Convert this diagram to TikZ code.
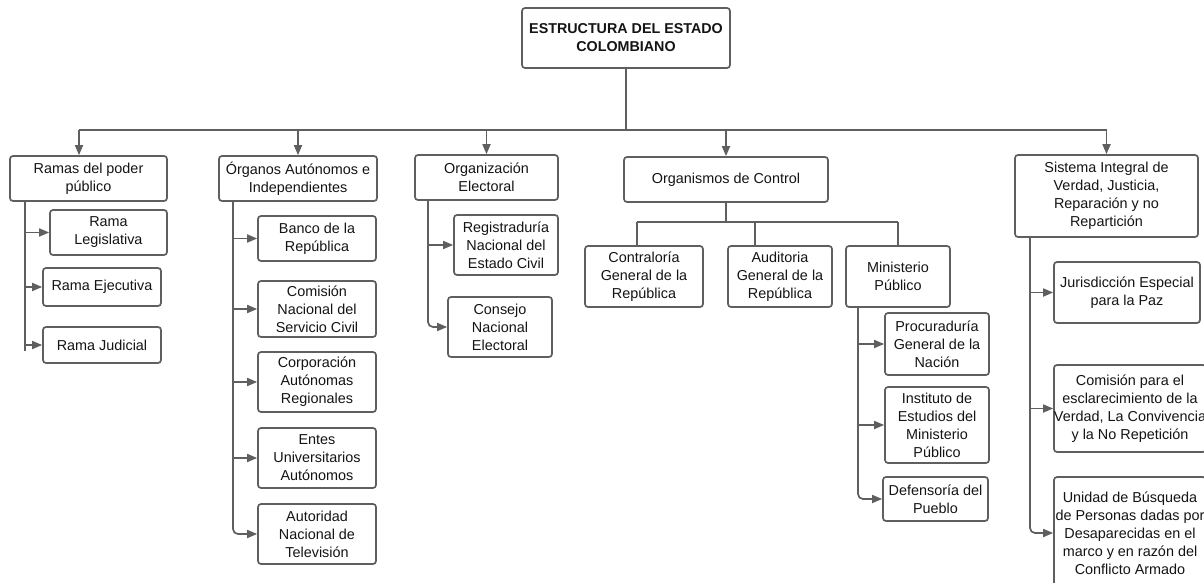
\documentclass[tikz,border=0pt]{standalone}
\usepackage{fontspec}
\setmainfont{Liberation Sans}
\usetikzlibrary{arrows.meta}
\definecolor{ln}{RGB}{95,95,95}
\definecolor{tx}{RGB}{20,20,20}
\begin{document}
\begin{tikzpicture}[x=1pt,y=-1pt,
  box/.style={draw=ln, line width=1.7pt, rounded corners=3pt, fill=white, align=center,
    inner sep=0pt, text=tx, font=\fontsize{14.4}{18}\selectfont},
  conn/.style={draw=ln, line width=1.7pt},
  arr/.style={conn, -{Triangle[length=10pt,width=8pt]}}]
\useasboundingbox (0,0) rectangle (1204,583);
\clip (0,0) rectangle (1204,583);
\fill[white] (0,0) rectangle (1204,583);

% root
\node[box, minimum width=208, minimum height=60, font=\bfseries\fontsize{14.3}{18}\selectfont] (top) at (626,38) {ESTRUCTURA DEL ESTADO\\COLOMBIANO};

% first level
\node[box, minimum width=157, minimum height=45] (ramas) at (88.5,178.5) {Ramas del poder\\público};
\node[box, minimum width=158, minimum height=45] (organos) at (298,178.5) {Órganos Autónomos e\\Independientes};
\node[box, minimum width=143, minimum height=45] (orgel) at (486.5,177.5) {Organización\\Electoral};
\node[box, minimum width=204, minimum height=45] (orgctl) at (726,179.5) {Organismos de Control};
\node[box, minimum width=183, minimum height=82] (sistema) at (1106.5,196) {Sistema Integral de\\Verdad, Justicia,\\Reparación y no\\Repartición};

% Ramas children
\node[box, minimum width=117, minimum height=45] (leg) at (108.5,232.5) {Rama\\Legislativa};
\node[box, minimum width=118, minimum height=38] (eje) at (102,287) {Rama Ejecutiva};
\node[box, minimum width=118, minimum height=36] (jud) at (102,345) {Rama Judicial};

% Organos children
\node[box, minimum width=118, minimum height=45] (banco) at (317,238.5) {Banco de la\\República};
\node[box, minimum width=118, minimum height=56] (cnsc) at (317,309) {Comisión\\Nacional del\\Servicio Civil};
\node[box, minimum width=118, minimum height=60] (car) at (317,382) {Corporación\\Autónomas\\Regionales};
\node[box, minimum width=118, minimum height=60] (entes) at (317,458) {Entes\\Universitarios\\Autónomos};
\node[box, minimum width=118, minimum height=60] (antv) at (317,534) {Autoridad\\Nacional de\\Televisión};

% Organizacion children
\node[box, minimum width=104, minimum height=60] (reg) at (506,245) {Registraduría\\Nacional del\\Estado Civil};
\node[box, minimum width=104, minimum height=60] (cne) at (500,327) {Consejo\\Nacional\\Electoral};

% Organismos children
\node[box, minimum width=118, minimum height=61] (contra) at (644,276.5) {Contraloría\\General de la\\República};
\node[box, minimum width=104, minimum height=61] (audit) at (780,276.5) {Auditoria\\General de la\\República};
\node[box, minimum width=104, minimum height=61] (minis) at (898,276.5) {Ministerio\\Público};

% Ministerio children
\node[box, minimum width=104, minimum height=62] (proc) at (937,344) {Procuraduría\\General de la\\Nación};
\node[box, minimum width=104, minimum height=76] (inst) at (937,425) {Instituto de\\Estudios del\\Ministerio\\Público};
\node[box, minimum width=105, minimum height=44] (def) at (935.5,499) {Defensoría del\\Pueblo};

% Sistema children
\node[box, minimum width=146, minimum height=61] (jep) at (1127,292.5) {Jurisdicción Especial\\para la Paz};
\node[box, minimum width=152, minimum height=87] (cev) at (1130,408.5) {Comisión para el\\esclarecimiento de la\\Verdad, La Convivencia\\y la No Repetición};
\node[box, minimum width=152, minimum height=112] (ubpd) at (1130,533) {Unidad de Búsqueda\\de Personas dadas por\\Desaparecidas en el\\marco y en razón del\\Conflicto Armado};

% bus from root
\coordinate (bus) at (626,130);
\coordinate (bL) at (79,130);
\draw[conn] (top.south) -- (bus);
\draw[conn] (bL) -- (sistema.north |- bus);
\draw[arr] (bL) -- (bL |- ramas.north);
\draw[arr] (organos.north |- bus) -- (organos.north);
\draw[arr] (orgel.north |- bus) -- (orgel.north);
\draw[arr] (orgctl.north |- bus) -- (orgctl.north);
\draw[arr] (sistema.north |- bus) -- (sistema.north);

% Ramas trunk
\coordinate (rt) at (25,201);
\coordinate (rend) at (25,351);
\draw[conn] (rt) -- (rend);
\draw[arr] (rt |- leg.west) -- (leg.west);
\draw[arr] (rt |- eje.west) -- (eje.west);
\draw[arr] (rt |- jud.west) -- (jud.west);

% Organos trunk
\coordinate (ot) at (233,201);
\draw[arr, rounded corners=5pt] (ot) |- (antv.west);
\draw[arr] (ot |- banco.west) -- (banco.west);
\draw[arr] (ot |- cnsc.west) -- (cnsc.west);
\draw[arr] (ot |- car.west) -- (car.west);
\draw[arr] (ot |- entes.west) -- (entes.west);

% Organizacion trunk
\coordinate (et) at (428,200);
\draw[arr, rounded corners=5pt] (et) |- (cne.west);
\draw[arr] (et |- reg.west) -- (reg.west);

% Organismos tree
\coordinate (cb) at (726,222);
\coordinate (c1) at (637,222);
\coordinate (c2) at (755,222);
\coordinate (c3) at (898,222);
\draw[conn] (orgctl.south) -- (cb);
\draw[conn] (c1) -- (c3);
\draw[conn] (c1) -- (c1 |- contra.north);
\draw[conn] (c2) -- (c2 |- audit.north);
\draw[conn] (c3) -- (minis.north);

% Ministerio trunk
\coordinate (mt) at (858,307);
\draw[arr, rounded corners=5pt] (mt) |- (def.west);
\draw[arr] (mt |- proc.west) -- (proc.west);
\draw[arr] (mt |- inst.west) -- (inst.west);

% Sistema trunk
\coordinate (st) at (1030,237);
\draw[arr, rounded corners=5pt] (st) |- (ubpd.west);
\draw[arr] (st |- jep.west) -- (jep.west);
\draw[arr] (st |- cev.west) -- (cev.west);
\end{tikzpicture}
\end{document}
